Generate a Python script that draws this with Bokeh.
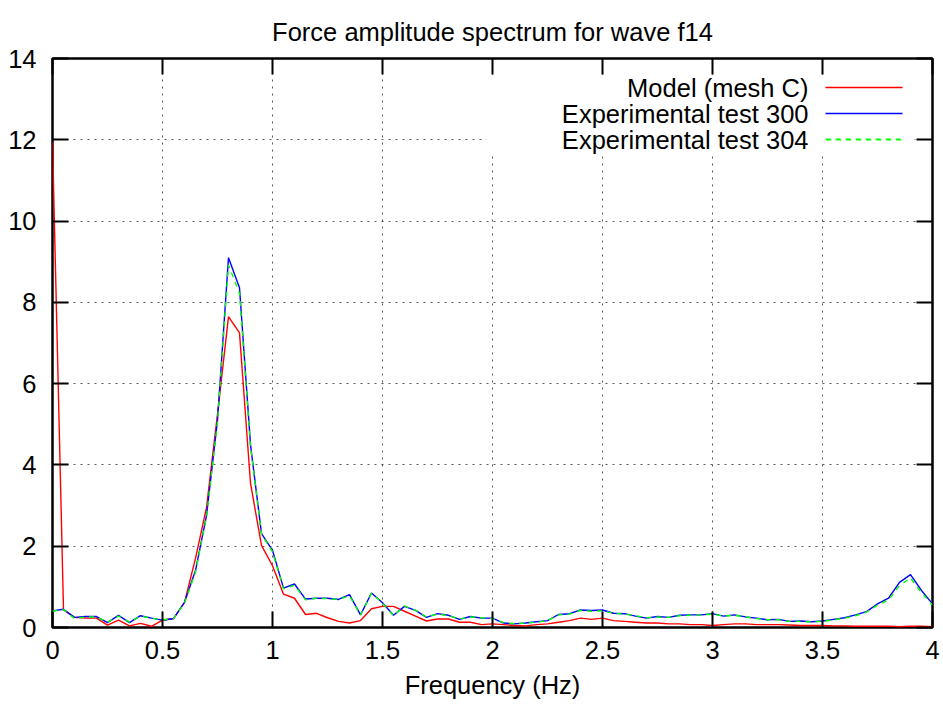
from bokeh.plotting import figure
from bokeh.models import (Range1d, LinearAxis, FixedTicker, Label, BoxAnnotation,
                          CustomJSTickFormatter, ColumnDataSource)
from bokeh.embed import file_html
from bokeh.resources import INLINE

# ---------------- data ----------------
freq = [0.00, 0.05, 0.10, 0.15, 0.20, 0.25, 0.30, 0.35, 0.40, 0.45,
        0.50, 0.55, 0.60, 0.65, 0.70, 0.75, 0.80, 0.85, 0.90, 0.95,
        1.00, 1.05, 1.10, 1.15, 1.20, 1.25, 1.30, 1.35, 1.40, 1.45,
        1.50, 1.55, 1.60, 1.65, 1.70, 1.75, 1.80, 1.85, 1.90, 1.95,
        2.00, 2.05, 2.10, 2.15, 2.20, 2.25, 2.30, 2.35, 2.40, 2.45,
        2.50, 2.55, 2.60, 2.65, 2.70, 2.75, 2.80, 2.85, 2.90, 2.95,
        3.00, 3.05, 3.10, 3.15, 3.20, 3.25, 3.30, 3.35, 3.40, 3.45,
        3.50, 3.55, 3.60, 3.65, 3.70, 3.75, 3.80, 3.85, 3.90, 3.95,
        4.00]

model_mesh_c = [11.95, 0.43, 0.25, 0.23, 0.23, 0.06, 0.18, 0.04, 0.10, 0.03,
                0.18, 0.22, 0.62, 1.70, 2.95, 5.25, 7.65, 7.25, 3.55, 2.02,
                1.52, 0.82, 0.72, 0.32, 0.35, 0.24, 0.15, 0.11, 0.17, 0.46,
                0.52, 0.52, 0.40, 0.28, 0.16, 0.21, 0.21, 0.13, 0.13, 0.07,
                0.09, 0.07, 0.05, 0.04, 0.07, 0.09, 0.13, 0.17, 0.23, 0.20,
                0.23, 0.17, 0.15, 0.13, 0.11, 0.11, 0.09, 0.09, 0.07, 0.07,
                0.05, 0.07, 0.09, 0.09, 0.07, 0.07, 0.07, 0.06, 0.05, 0.05,
                0.05, 0.04, 0.04, 0.03, 0.03, 0.03, 0.03, 0.02, 0.03, 0.03,
                0.02]

exp_test_300 = [0.41, 0.45, 0.25, 0.27, 0.27, 0.12, 0.30, 0.12, 0.29, 0.23,
                0.18, 0.22, 0.62, 1.40, 2.75, 5.10, 9.10, 8.36, 4.50, 2.31,
                1.90, 0.97, 1.07, 0.70, 0.72, 0.72, 0.69, 0.81, 0.31, 0.85,
                0.61, 0.30, 0.52, 0.42, 0.25, 0.34, 0.30, 0.20, 0.27, 0.23,
                0.23, 0.11, 0.09, 0.11, 0.14, 0.17, 0.32, 0.34, 0.43, 0.42,
                0.43, 0.35, 0.34, 0.28, 0.23, 0.27, 0.25, 0.30, 0.31, 0.31,
                0.34, 0.28, 0.31, 0.26, 0.23, 0.19, 0.20, 0.15, 0.16, 0.14,
                0.16, 0.20, 0.24, 0.31, 0.39, 0.58, 0.72, 1.11, 1.30, 0.91,
                0.58]

exp_test_304 = [0.40, 0.44, 0.22, 0.26, 0.26, 0.13, 0.28, 0.13, 0.28, 0.23,
                0.19, 0.22, 0.60, 1.36, 2.72, 5.05, 8.92, 8.22, 4.45, 2.30,
                1.86, 0.95, 1.04, 0.68, 0.72, 0.71, 0.69, 0.78, 0.31, 0.84,
                0.60, 0.29, 0.53, 0.42, 0.26, 0.33, 0.29, 0.21, 0.26, 0.24,
                0.22, 0.12, 0.09, 0.11, 0.13, 0.17, 0.31, 0.33, 0.42, 0.40,
                0.41, 0.35, 0.33, 0.29, 0.24, 0.26, 0.25, 0.29, 0.30, 0.31,
                0.33, 0.28, 0.30, 0.26, 0.22, 0.19, 0.19, 0.15, 0.15, 0.14,
                0.15, 0.19, 0.23, 0.29, 0.38, 0.55, 0.68, 1.03, 1.22, 0.86,
                0.55]

series_names = ["Model (mesh C)", "Experimental test 300", "Experimental test 304"]
series_colors = ["#ff0000", "#0000ff", "#00ff00"]

x_ticks = [0, 0.5, 1, 1.5, 2, 2.5, 3, 3.5, 4]
x_tick_labels = ["0", "0.5", "1", "1.5", "2", "2.5", "3", "3.5", "4"]
y_ticks = [0, 2, 4, 6, 8, 10, 12, 14]
y_tick_labels = ["0", "2", "4", "6", "8", "10", "12", "14"]

title_text = "Force amplitude spectrum for wave f14"
x_label_text = "Frequency (Hz)"

# ---------------- figure ----------------
FONT = "Liberation Sans"
FS = "25.5px"
W, H = 943, 708
LEFT, TOP = 52, 58
FRAME_W, FRAME_H = 880, 569

p = figure(width=W, height=H, x_range=Range1d(0, 4), y_range=Range1d(0, 14),
           output_backend="svg", toolbar_location=None,
           min_border_left=LEFT, min_border_right=W - LEFT - FRAME_W,
           min_border_top=TOP, min_border_bottom=H - TOP - FRAME_H)
p.background_fill_color = "white"
p.border_fill_color = "white"
p.outline_line_color = "black"
p.outline_line_width = 2.5

p.title.text = title_text
p.title.align = "center"
p.title.text_font = FONT
p.title.text_font_size = FS
p.title.text_font_style = "normal"
p.title.text_color = "black"
p.title.standoff = 25

src = ColumnDataSource(dict(f=freq, m=model_mesh_c, e300=exp_test_300, e304=exp_test_304))
p.line("f", "m", source=src, line_color=series_colors[0], line_width=1.4)
p.line("f", "e300", source=src, line_color=series_colors[1], line_width=1.4)
p.line("f", "e304", source=src, line_color=series_colors[2], line_width=1.4, line_dash="5 5")

# axes
xo = {t: l for t, l in zip(x_ticks, x_tick_labels)}
yo = {t: l for t, l in zip(y_ticks, y_tick_labels)}

for ax, ticks, over in ((p.xaxis[0], x_ticks, xo), (p.yaxis[0], y_ticks, yo)):
    ax.ticker = FixedTicker(ticks=ticks)
    ax.major_label_overrides = over
    ax.major_tick_in = 16
    ax.major_tick_out = 0
    ax.major_tick_line_width = 2
    ax.major_tick_line_color = "black"
    ax.minor_tick_line_color = None
    ax.axis_line_color = None
    ax.major_label_text_font = FONT
    ax.major_label_text_font_size = FS
    ax.major_label_text_color = "black"

p.xaxis[0].major_label_standoff = 13
p.yaxis[0].major_label_standoff = 16
p.xaxis[0].axis_label = x_label_text
p.xaxis[0].axis_label_text_font = FONT
p.xaxis[0].axis_label_text_font_size = FS
p.xaxis[0].axis_label_text_font_style = "normal"
p.xaxis[0].axis_label_text_color = "black"
p.xaxis[0].axis_label_standoff = 9

blank = "return ''"
top_ax = LinearAxis(ticker=FixedTicker(ticks=x_ticks), formatter=CustomJSTickFormatter(code=blank),
                    major_label_text_font_size="0px", major_label_standoff=0,
                    major_tick_in=16, major_tick_out=0, major_tick_line_width=2,
                    minor_tick_line_color=None, axis_line_color=None)
right_ax = LinearAxis(ticker=FixedTicker(ticks=y_ticks), formatter=CustomJSTickFormatter(code=blank),
                      major_label_text_font_size="0px", major_label_standoff=0,
                      major_tick_in=16, major_tick_out=0, major_tick_line_width=2,
                      minor_tick_line_color=None, axis_line_color=None)
p.add_layout(top_ax, "above")
p.add_layout(right_ax, "right")

for g in (p.xgrid[0], p.ygrid[0]):
    g.grid_line_color = "black"
    g.grid_line_alpha = 0.65
    g.grid_line_width = 1
    g.grid_line_dash = "2 5"
p.xgrid[0].ticker = FixedTicker(ticks=x_ticks)
p.ygrid[0].ticker = FixedTicker(ticks=y_ticks)

# ---------------- legend (gnuplot style: text then sample) ----------------
p.add_layout(BoxAnnotation(left=434, right=862, top=552, bottom=472,
                           left_units="screen", right_units="screen",
                           top_units="screen", bottom_units="screen",
                           fill_color="white", fill_alpha=1.0, line_color=None))
row_y = [540, 514, 488]
for name, color, yy, dash in zip(series_names, series_colors, row_y, [None, None, "5 5"]):
    p.add_layout(Label(x=756, y=yy, x_units="screen", y_units="screen", text=name,
                       text_align="right", text_baseline="middle",
                       text_font=FONT, text_font_size=FS, text_color="black"))
    if dash is None:
        p.add_layout(BoxAnnotation(left=773, right=850, top=yy + 0.7, bottom=yy - 0.7,
                                   left_units="screen", right_units="screen",
                                   top_units="screen", bottom_units="screen",
                                   fill_color=color, fill_alpha=1.0, line_color=None))
    else:
        p.add_layout(BoxAnnotation(left=773, right=850.5, top=yy + 0.4, bottom=yy - 0.4,
                                   left_units="screen", right_units="screen",
                                   top_units="screen", bottom_units="screen",
                                   fill_alpha=0.0, line_color=color, line_alpha=1.0,
                                   line_width=1.2, line_dash=dash))

open("out.html", "w").write(file_html(p, INLINE))
